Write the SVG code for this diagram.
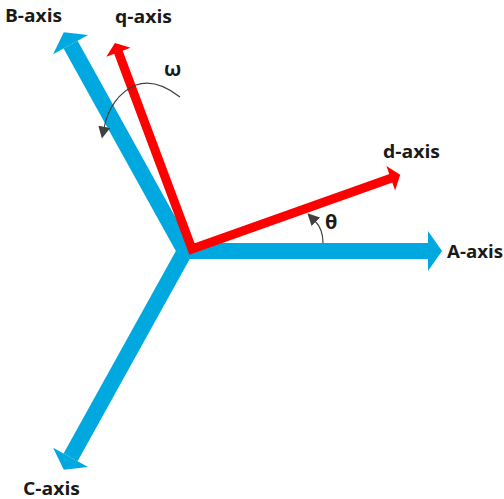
<svg xmlns="http://www.w3.org/2000/svg" width="504" height="499" viewBox="0 0 504 499">
<style>
.blue{fill:#00a8e0}
.red{fill:#ff0000}
.redline{fill:none;stroke:#ff0000;stroke-width:9;stroke-linejoin:miter}
.arc{fill:none;stroke:#404040;stroke-width:1.2}
.lbl{font-family:"Open Sans","Liberation Sans",sans-serif;font-weight:bold;font-size:17px;fill:#1a1a1a}
.sym{font-size:20px}
</style>
<defs>
<marker id="ah" viewBox="0 0 10 10" refX="1" refY="5" markerWidth="12" markerHeight="12" markerUnits="userSpaceOnUse" orient="auto">
<path d="M0,0 L10,5 L0,10 z" fill="#404040"/>
</marker>
</defs>
<g id="abc-axes">
<g id="a-axis" transform="translate(185,251)">
<rect class="blue" x="-5" y="-8" width="248" height="16"/>
<polygon class="blue" points="243,-20 257,0 243,20"/>
</g>
<g id="b-axis" transform="translate(185,251) rotate(-119)">
<rect class="blue" x="-5" y="-8" width="241" height="16"/>
<polygon class="blue" points="236,-20 250,0 236,20"/>
</g>
<g id="c-axis" transform="translate(185,251) rotate(119)">
<rect class="blue" x="-5" y="-8" width="241" height="16"/>
<polygon class="blue" points="236,-20 250,0 236,20"/>
</g>
</g>
<g id="dq-axes">
<path class="redline" d="M118.1,51.3 L192,249 L391.7,177.9"/>
<g id="d-axis" transform="translate(192,249) rotate(-19.6)">
<polygon class="red" points="211,-13 221,0 211,13"/>
</g>
<g id="q-axis" transform="translate(192,249) rotate(-110.5)">
<polygon class="red" points="210,-13 220,0 210,13"/>
</g>
</g>
<g id="rotations">
<path id="omega-arc" class="arc" marker-end="url(#ah)" d="M180,97 C166,86 150,80 136,85 C119,92 108,108 104,128"/>
<path id="theta-arc" class="arc" marker-end="url(#ah)" d="M323,243 C323,233 320,226 315,221"/>
</g>
<g id="labels">
<text class="lbl" x="5" y="22" textLength="57" lengthAdjust="spacingAndGlyphs">B-axis</text>
<text class="lbl" x="115" y="23" textLength="57" lengthAdjust="spacingAndGlyphs">q-axis</text>
<text class="lbl sym" x="164" y="76">ω</text>
<text class="lbl sym" x="325" y="229">θ</text>
<text class="lbl" x="383" y="158" textLength="57" lengthAdjust="spacingAndGlyphs">d-axis</text>
<text class="lbl" x="447" y="258" textLength="56" lengthAdjust="spacingAndGlyphs">A-axis</text>
<text class="lbl" x="23" y="495" textLength="57" lengthAdjust="spacingAndGlyphs">C-axis</text>
</g>
</svg>
